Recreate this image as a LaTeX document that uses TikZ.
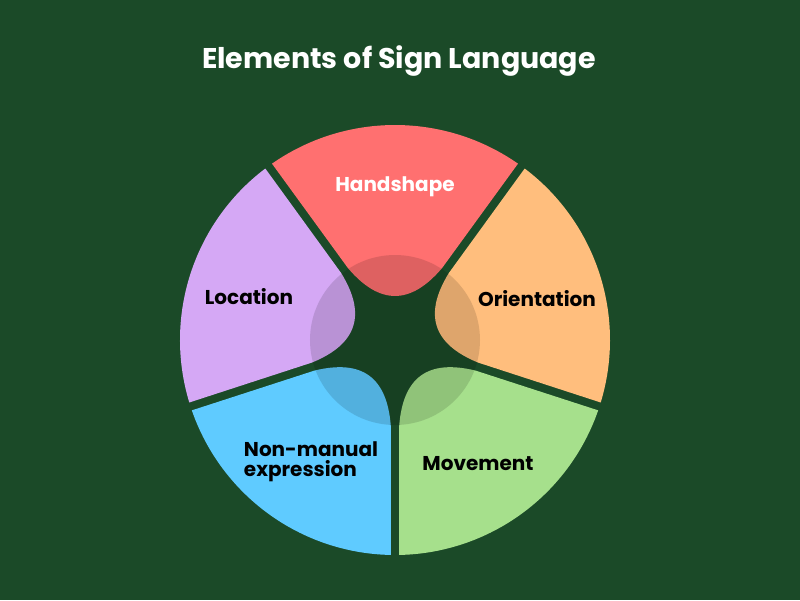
\documentclass[tikz,border=0pt]{standalone}
\usepackage{fontspec}
\setmainfont{Poppins}
\usepackage{xcolor}
\definecolor{bggreen}{RGB}{27, 74, 40}
\definecolor{handred}{RGB}{255, 112, 112}
\definecolor{orientorange}{RGB}{255, 190, 125}
\definecolor{moveleaf}{RGB}{166, 224, 140}
\definecolor{nonmanblue}{RGB}{95, 203, 255}
\definecolor{locviolet}{RGB}{213, 168, 245}

\begin{document}
\begin{tikzpicture}[
    x=1pt, y=1pt,
    label/.style={font=\fontsize{20}{20}\selectfont\bfseries, align=center, text=black},
  ]
    \fill[bggreen] (-395,-260) rectangle (405,340);
    \useasboundingbox (-395,-260) rectangle (405,340);

    % Title
    \node[font=\fontsize{28.5}{30}\selectfont\bfseries, text=white] (title) at (4,279) {Elements of Sign Language};

    % Segments: {start angle/end angle/colour}
    \foreach \a/\b/\col in {54/126/handred, -18/54/orientorange, -90/-18/moveleaf,
                            -162/-90/nonmanblue, 126/198/locviolet}{
      \fill[\col] (\a+1.1:215) arc[start angle=\a+1.1, end angle=\b-1.1, radius=215]
        -- (\b-2.8:86) .. controls (\b-12:38) and (\a+12:38) .. (\a+2.8:86) -- cycle;
    }
    % Darker centre
    \fill[black, opacity=0.13] (0,0) circle (85);

    % Labels
    \node[label, text=white] (hand) at (0,153) {Handshape};
    \node[label] (orient) at (142,41) {Orientation};
    \node[label] (move) at (83,-124) {Movement};
    \node[label, align=left] (nonman) at (-84,-122) {Non-manual\\expression};
    \node[label] (loc) at (-146,43) {Location};
  \end{tikzpicture}
\end{document}
